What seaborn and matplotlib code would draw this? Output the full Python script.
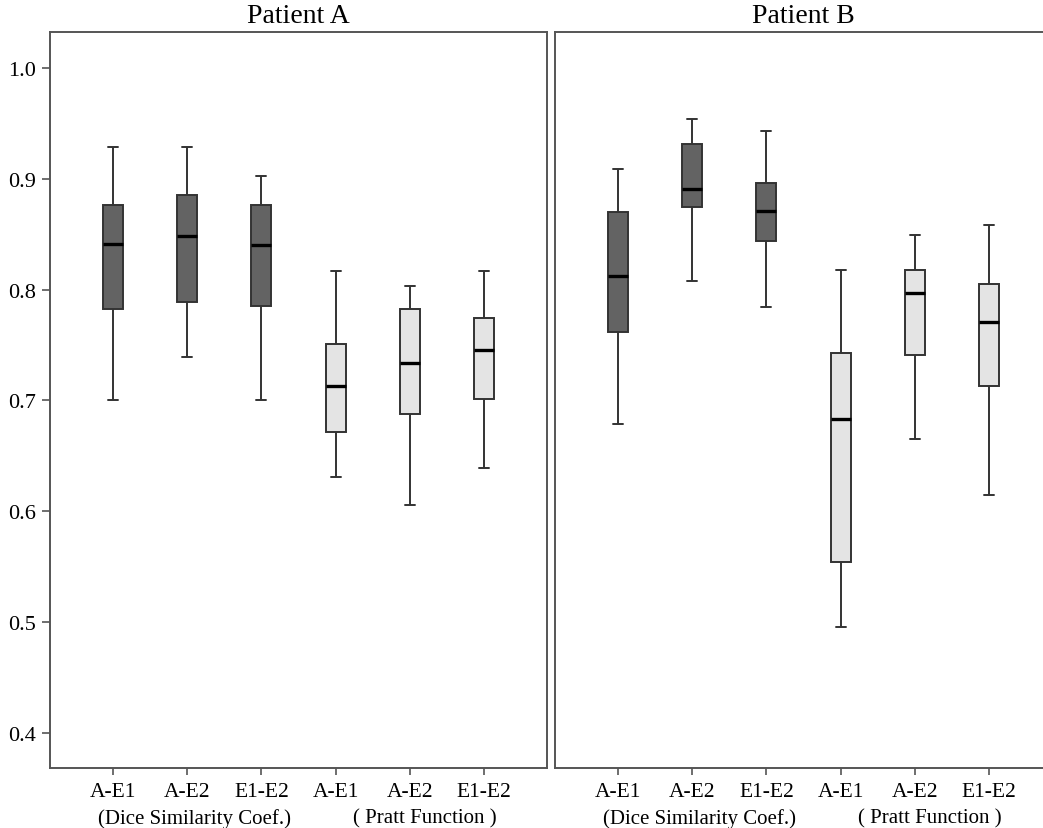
import numpy as np
import pandas as pd
import matplotlib
matplotlib.use("Agg")
import matplotlib.pyplot as plt
import seaborn as sns
from matplotlib.transforms import blended_transform_factory

sns.set_theme(style="white")
plt.rcParams["font.family"] = ["Liberation Serif", "DejaVu Serif"]
plt.rcParams["text.color"] = "black"
plt.rcParams["xtick.labelcolor"] = "black"
plt.rcParams["ytick.labelcolor"] = "black"

# ---- data (five-number summaries: whisker low, Q1, median, Q3, whisker high)
patients = ["Patient A", "Patient B"]
pairs = ["A-E1", "A-E2", "E1-E2"]
metrics = ["Dice", "Pratt"]
group_labels = ["(Dice Similarity Coef.)", "( Pratt Function )"]

a_dice = [[0.700, 0.783, 0.841, 0.876, 0.929],
          [0.739, 0.789, 0.848, 0.885, 0.929],
          [0.700, 0.785, 0.840, 0.876, 0.903]]
a_pratt = [[0.631, 0.672, 0.713, 0.751, 0.817],
           [0.606, 0.688, 0.734, 0.783, 0.803],
           [0.639, 0.701, 0.746, 0.774, 0.817]]
b_dice = [[0.679, 0.762, 0.812, 0.870, 0.909],
          [0.808, 0.875, 0.891, 0.931, 0.954],
          [0.784, 0.844, 0.871, 0.896, 0.943]]
b_pratt = [[0.496, 0.554, 0.683, 0.743, 0.818],
           [0.665, 0.741, 0.797, 0.818, 0.849],
           [0.615, 0.713, 0.771, 0.805, 0.858]]

y_ticks = [0.4, 0.5, 0.6, 0.7, 0.8, 0.9, 1.0]

summaries = {
    ("Patient A", "Dice"): a_dice, ("Patient A", "Pratt"): a_pratt,
    ("Patient B", "Dice"): b_dice, ("Patient B", "Pratt"): b_pratt,
}

rows = []
for (pat, met), groups in summaries.items():
    for pair, vals in zip(pairs, groups):
        for v in vals:
            rows.append({"patient": pat, "metric": met, "key": f"{met} {pair}", "value": v})
df = pd.DataFrame(rows)
order = [f"{m} {p}" for m in metrics for p in pairs]

palette = {"Dice": "#636363", "Pratt": "#e4e4e4"}

W, H = 1043, 829
fig = plt.figure(figsize=(W / 100, H / 100), dpi=100)
ax_bottom = 1 - 769 / H
ax_h = (769 - 33) / H
axes = [fig.add_axes([50 / W, ax_bottom, 497 / W, ax_h]),
        fig.add_axes([555 / W, ax_bottom, 497 / W, ax_h])]

spine_color = "#555555"
for ax, pat in zip(axes, patients):
    sub = df[df["patient"] == pat]
    sns.boxplot(data=sub, x="key", y="value", hue="metric", order=order,
                hue_order=metrics, palette=palette, dodge=False, width=0.27,
                whis=np.inf, saturation=1, linecolor="#333333", linewidth=1.4,
                medianprops={"color": "black", "linewidth": 2.4},
                legend=False, ax=ax)
    ax.set_xlim(-0.85, 5.85)
    ax.set_ylim(0.3684, 1.0325)
    ax.set_xticks(range(6))
    ax.set_xticklabels(pairs * 2, fontsize=15.5)
    ax.set_xlabel("")
    ax.set_ylabel("")
    ax.set_title(pat, fontsize=20, pad=7)
    for s in ax.spines.values():
        s.set_color(spine_color)
        s.set_linewidth(1.4)
    ax.tick_params(axis="x", length=5, width=1.2, color=spine_color, pad=5, bottom=True)
    trans = blended_transform_factory(ax.transData, ax.transAxes)
    ax.text(1.1, -0.055, group_labels[0], transform=trans, ha="center", va="top", fontsize=15)
    ax.text(4.2, -0.055, group_labels[1], transform=trans, ha="center", va="top", fontsize=15)

axes[0].set_yticks(y_ticks)
axes[0].set_yticklabels([f"{t:.1f}" for t in y_ticks], fontsize=16)
axes[0].tick_params(axis="y", length=6, width=1.2, color=spine_color, pad=4, left=True)
axes[1].set_yticks(y_ticks)
axes[1].tick_params(axis="y", left=False, labelleft=False)

fig.savefig("out.png", dpi=100)
